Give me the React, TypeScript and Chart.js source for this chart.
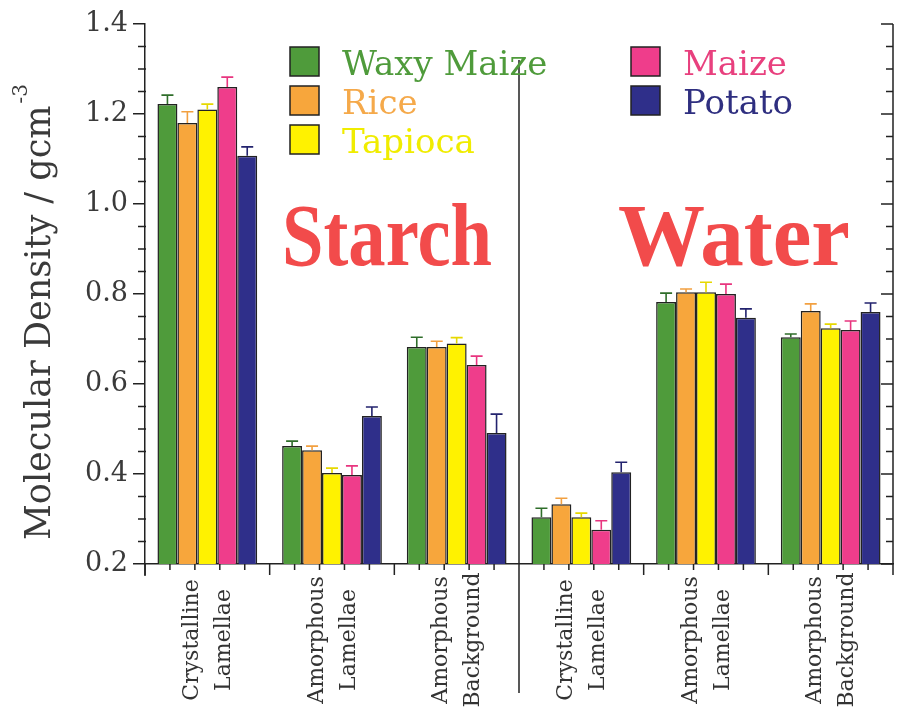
import React, { useEffect, useRef } from "react";
import { Chart, registerables } from "chart.js";

Chart.register(...registerables);

// ---------- data ----------
const categories: string[][] = [
  ["Crystalline", "Lamellae"],
  ["Amorphous", "Lamellae"],
  ["Amorphous", "Background"],
  ["Crystalline", "Lamellae"],
  ["Amorphous", "Lamellae"],
  ["Amorphous", "Background"],
];
const seriesNames = ["Waxy Maize", "Rice", "Tapioca", "Maize", "Potato"];

const waxyMaize = [1.222, 0.462, 0.682, 0.304, 0.782, 0.704];
const waxyMaizeErr = [0.02, 0.011, 0.022, 0.02, 0.02, 0.007];
const rice = [1.18, 0.453, 0.682, 0.333, 0.804, 0.762];
const riceErr = [0.025, 0.009, 0.013, 0.013, 0.007, 0.016];
const tapioca = [1.21, 0.402, 0.69, 0.304, 0.804, 0.724];
const tapiocaErr = [0.012, 0.011, 0.013, 0.009, 0.022, 0.009];
const maize = [1.26, 0.398, 0.642, 0.276, 0.8, 0.72];
const maizeErr = [0.022, 0.02, 0.02, 0.02, 0.022, 0.02];
const potato = [1.107, 0.529, 0.491, 0.404, 0.747, 0.76];
const potatoErr = [0.02, 0.02, 0.042, 0.022, 0.02, 0.02];

const seriesValues = [waxyMaize, rice, tapioca, maize, potato];
const seriesErrors = [waxyMaizeErr, riceErr, tapiocaErr, maizeErr, potatoErr];

const yMin = 0.2;
const yMax = 1.4;
const yStep = 0.2;
const yMinorStep = 0.05;
const yTitle = "Molecular Density / gcm";
const yTitleSup = "-3";
const sectionTitles = ["Starch", "Water"];

// ---------- styles ----------
const barColors = ["#4f9b3b", "#f7a63c", "#fff200", "#ef3d8b", "#2f2f8a"];
const errColors = ["#2f6e2a", "#f2a040", "#e6d800", "#e8357f", "#23236e"];
const legendTextColors = ["#4f9b3b", "#f5a94a", "#f0ec00", "#e8407e", "#2f2f80"];
const AXIS = "#222";
const SERIF = "'DejaVu Serif', serif";

const errorBarPlugin = {
  id: "errorBars",
  afterDatasetsDraw(chart: any) {
    const ctx = chart.ctx;
    const y = chart.scales.y;
    ctx.save();
    ctx.lineWidth = 1.6;
    chart.data.datasets.forEach((ds: any, d: number) => {
      const meta = chart.getDatasetMeta(d);
      meta.data.forEach((bar: any, i: number) => {
        const v = ds.data[i];
        const e = ds.errors[i];
        const top = y.getPixelForValue(v + e);
        ctx.strokeStyle = errColors[d];
        ctx.beginPath();
        ctx.moveTo(bar.x, bar.y);
        ctx.lineTo(bar.x, top);
        ctx.moveTo(bar.x - 6, top);
        ctx.lineTo(bar.x + 6, top);
        ctx.stroke();
      });
    });
    ctx.restore();
  },
};

const decorPlugin = {
  id: "decor",
  beforeDraw(chart: any) {
    const ctx = chart.ctx;
    ctx.save();
    ctx.fillStyle = "#ffffff";
    ctx.fillRect(0, 0, chart.width, chart.height);
    ctx.restore();
  },
  afterDraw(chart: any) {
    const ctx = chart.ctx;
    const area = chart.chartArea;
    const xs = chart.scales.x;
    const ys = chart.scales.y;
    ctx.save();
    ctx.strokeStyle = AXIS;
    ctx.lineWidth = 1.5;

    // left minor ticks & right axis
    ctx.beginPath();
    const nMinor = Math.round((yMax - yMin) / yMinorStep);
    for (let k = 0; k <= nMinor; k++) {
      const v = yMin + k * yMinorStep;
      const py = ys.getPixelForValue(v);
      const major = k % Math.round(yStep / yMinorStep) === 0;
      if (!major) {
        ctx.moveTo(area.left - 7, py);
        ctx.lineTo(area.left + 1, py);
      }
      ctx.moveTo(area.right, py);
      ctx.lineTo(area.right - (major ? 12 : 7), py);
    }
    ctx.moveTo(area.right, area.top);
    ctx.lineTo(area.right, area.bottom);
    // left axis extension
    ctx.moveTo(area.left, area.bottom);
    ctx.lineTo(area.left, area.bottom + 12);
    ctx.stroke();

    // bottom ticks
    const n = categories.length;
    const w = (area.right - area.left) / n;
    ctx.beginPath();
    for (let i = 0; i <= n; i++) {
      const b = i < n ? xs.getPixelForValue(i) - w / 2 : xs.getPixelForValue(n - 1) + w / 2;
      ctx.moveTo(b, area.bottom);
      ctx.lineTo(b, area.bottom + 11);
      if (i < n) {
        for (let k = 1; k < 5; k++) {
          ctx.moveTo(b + (k * w) / 5, area.bottom);
          ctx.lineTo(b + (k * w) / 5, area.bottom + 6);
        }
      }
    }
    // divider between starch and water
    const div = xs.getPixelForValue(n / 2 - 1) + w / 2;
    ctx.moveTo(div, 60);
    ctx.lineTo(div, area.bottom + 129);
    ctx.stroke();

    // x labels (rotated, two lines, centered)
    ctx.fillStyle = "#333";
    ctx.font = `22px ${SERIF}`;
    ctx.textAlign = "center";
    ctx.textBaseline = "middle";
    categories.forEach((lines, i) => {
      const cx = xs.getPixelForValue(i) + 1;
      const cy = area.bottom + 76;
      ctx.save();
      ctx.translate(cx, cy);
      ctx.rotate(-Math.PI / 2);
      lines.forEach((t, j) => {
        ctx.fillText(t, 0, (j - (lines.length - 1) / 2) * 32);
      });
      ctx.restore();
    });

    // y title
    ctx.save();
    ctx.translate(50, 540);
    ctx.rotate(-Math.PI / 2);
    ctx.textAlign = "left";
    ctx.textBaseline = "alphabetic";
    ctx.fillStyle = "#3a3a3a";
    ctx.font = `35px ${SERIF}`;
    ctx.fillText(yTitle, 0, 0);
    const tw = ctx.measureText(yTitle).width;
    ctx.font = `20px ${SERIF}`;
    ctx.fillText(yTitleSup, tw + 2, -23);
    ctx.restore();

    // legend
    const legendPos = [
      [290, 47], [290, 86], [290, 125],
      [631, 47], [631, 86],
    ];
    ctx.textAlign = "left";
    ctx.textBaseline = "alphabetic";
    ctx.font = `34px ${SERIF}`;
    seriesNames.forEach((name, d) => {
      const [lx, ly] = legendPos[d];
      ctx.fillStyle = barColors[d];
      ctx.fillRect(lx, ly, 29, 29);
      ctx.strokeStyle = AXIS;
      ctx.lineWidth = 1.5;
      ctx.strokeRect(lx, ly, 29, 29);
      ctx.fillStyle = legendTextColors[d];
      ctx.fillText(name, lx + 52, ly + 28);
    });

    // section titles
    ctx.fillStyle = "#f24b4b";
    ctx.font = `bold 88px 'Liberation Serif', serif`;
    ctx.textAlign = "left";
    ctx.fillText(sectionTitles[0], 282, 265, 210);
    ctx.fillText(sectionTitles[1], 618, 265, 232);

    ctx.restore();
  },
};

export default function App() {
  const ref = useRef<HTMLCanvasElement | null>(null);

  useEffect(() => {
    if (!ref.current) return;
    const chart = new Chart(ref.current, {
      type: "bar",
      data: {
        labels: categories.map((c) => c.join(" ")),
        datasets: seriesNames.map((name, d) => ({
          label: name,
          data: seriesValues[d],
          errors: seriesErrors[d],
          backgroundColor: barColors[d],
          borderColor: AXIS,
          borderWidth: 1.5,
          borderSkipped: false,
          categoryPercentage: 0.8,
          barPercentage: 1.0,
        })) as any,
      },
      options: {
        responsive: false,
        animation: false,
        layout: { padding: { left: 0, top: 24, right: 8, bottom: 0 } },
        plugins: {
          legend: { display: false },
          tooltip: { enabled: false },
          title: { display: false },
        },
        scales: {
          x: {
            type: "category",
            offset: true,
            grid: { display: false, drawTicks: false },
            ticks: { display: false },
            border: { display: true, color: AXIS, width: 1.5 },
            afterFit(s: any) {
              s.height = 149;
            },
          },
          y: {
            min: yMin,
            max: yMax,
            ticks: {
              stepSize: yStep,
              callback: (v: any) => Number(v).toFixed(1),
              font: { family: "'DejaVu Serif', serif", size: 27 },
              color: "#3a3a3a",
              padding: 5,
            },
            grid: {
              display: true,
              drawOnChartArea: false,
              drawTicks: true,
              tickLength: 12,
              color: AXIS,
              lineWidth: 1.5,
            },
            border: { display: true, color: AXIS, width: 1.5 },
            afterFit(s: any) {
              s.width = 145;
            },
          },
        },
      } as any,
      plugins: [decorPlugin, errorBarPlugin],
    });
    return () => chart.destroy();
  }, []);

  return (
    <div style={{ position: "absolute", left: 0, top: 0, width: 901, height: 713, background: "#fff" }}>
      <canvas ref={ref} width={901} height={713} style={{ display: "block", width: 901, height: 713 }} />
    </div>
  );
}
